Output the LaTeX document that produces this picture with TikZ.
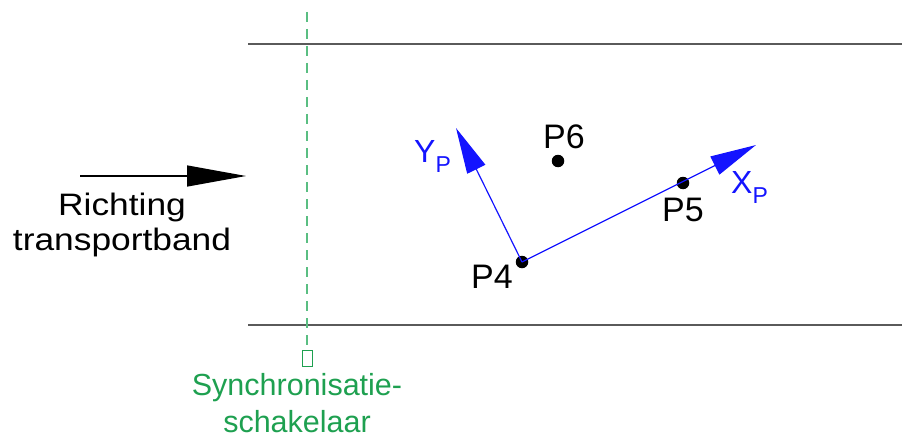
\documentclass[tikz,border=0pt]{standalone}
\usepackage{fontspec}
\setmainfont{Liberation Sans}
\usetikzlibrary{arrows.meta}
\definecolor{beltgray}{RGB}{90,90,90}
\definecolor{syncgreen}{RGB}{30,160,80}
\definecolor{dashgreen}{RGB}{90,190,130}
\definecolor{axblue}{RGB}{20,20,255}
\newcommand{\wide}[1]{\scalebox{1.14}[1]{#1}}
\newcommand{\subP}{\raisebox{-10pt}{\fontsize{23}{26}\selectfont P}}
\begin{document}
\begin{tikzpicture}[x=1pt,y=-1pt,
  belt/.style={draw=beltgray,line width=1.3pt},
  lbl/.style={font=\fontsize{31}{35}\selectfont,inner sep=0pt,align=center},
  plbl/.style={font=\fontsize{34}{38}\selectfont,inner sep=0pt,anchor=base},
  glbl/.style={font=\fontsize{30.5}{37}\selectfont,inner sep=0pt,align=center,text=syncgreen},
  blbl/.style={font=\fontsize{32}{36}\selectfont,inner sep=0pt,text=axblue,anchor=base west},
  axis/.style={draw=axblue,line width=1.2pt,-{Triangle[length=46pt,width=20pt]}},
  pt/.style={circle,fill=black,inner sep=0pt,minimum size=12.5pt}]
\useasboundingbox (0,0) rectangle (902,441);
% belt
\coordinate (tl) at (248,44); \coordinate (tr) at (902,44);
\coordinate (bl) at (248,325); \coordinate (br) at (902,325);
\draw[belt] (tl) -- (tr);
\draw[belt] (bl) -- (br);
% sync switch
\coordinate (st) at (307,12);
\node[draw=syncgreen,line width=1pt,minimum width=10pt,minimum height=16pt,inner sep=0pt] (sw) at (307,358) {};
\draw[dashgreen,line width=1.6pt,dash pattern=on 10pt off 7pt] (st) -- (sw.north);
\node[glbl,anchor=base] (sync1) at (297,395) {Synchronisatie-};
\node[glbl,anchor=base] (sync2) at (297,432) {schakelaar};
% direction arrow
\coordinate (as) at (80,176); \coordinate (ae) at (246,176);
\draw[line width=1.3pt,-{Triangle[length=59pt,width=21pt]}] (as) -- (ae);
\node[lbl,anchor=base] (dir1) at (122,215) {\wide{Richting}};
\node[lbl,anchor=base] (dir2) at (122,250) {\wide{transportband}};
% points
\node[pt] (p4) at (522,262) {};
\node[pt] (p5) at (683,183) {};
\node[pt] (p6) at (558,161) {};
\coordinate (ytip) at (456,128);
\coordinate (xtip) at (756,145);
\draw[axis] (p4.center) -- (ytip);
\draw[axis] (p4.center) -- (xtip);
\node[plbl] (p4l) at (492,288) {P4};
\node[plbl] (p5l) at (683,221) {P5};
\node[plbl] (p6l) at (564,149) {P6};
\node[blbl] (yl) at (414,162) {Y\subP};
\node[blbl] (xl) at (731,193) {X\subP};
\end{tikzpicture}
\end{document}
